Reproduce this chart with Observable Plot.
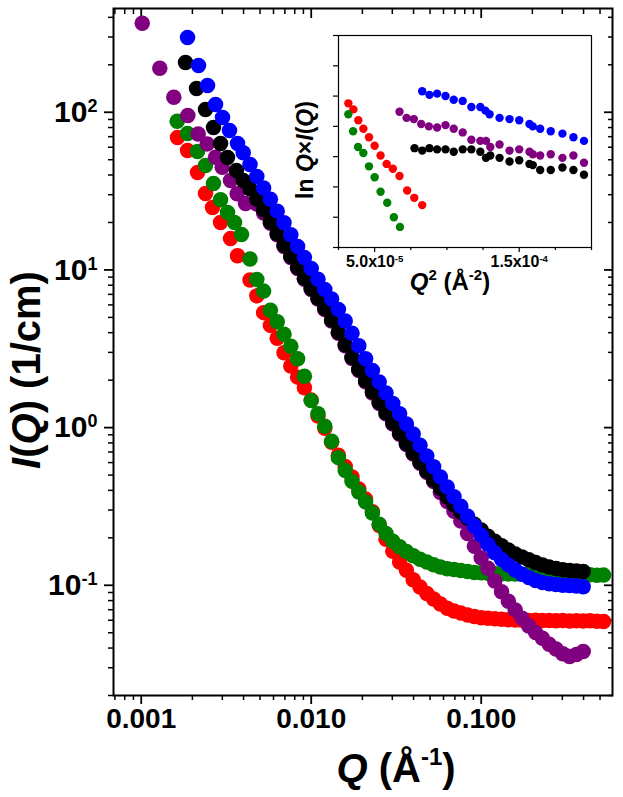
<!DOCTYPE html>
<html>
<head>
<meta charset="utf-8">
<script src="https://cdn.jsdelivr.net/npm/d3@7"></script>
<script src="https://cdn.jsdelivr.net/npm/@observablehq/plot@0.6"></script>
<style>
  body { margin: 0; background: #fff; }
  #wrap { position: relative; width: 623px; height: 797px; overflow: hidden; }
  #wrap svg { display: block; }
  #inset { position: absolute; left: 280px; top: 25px; }
</style>
</head>
<body>
<div id="wrap"></div>
<script>
const FONT = "'Liberation Sans', Arial, Helvetica, sans-serif";

// ---------- Main plot data: Q (1/Å) and I(Q) (1/cm) ----------
const qGrid = [0.002512,0.002754,0.003020,0.003311,0.003631,0.003981,0.004365,0.004786,0.005248,0.005754,
  0.006310,0.006918,0.007586,0.008318,0.009120,0.01000,0.01096,0.01202,0.01318,0.01445,
  0.01585,0.01738,0.01905,0.02089,0.02291,0.02512,0.02754,0.03020,0.03311,0.03631,
  0.03981,0.04365,0.04786,0.05248,0.05754,0.06310,0.06918,0.07586,0.08318,0.09120,
  0.1000,0.1096,0.1202,0.1318,0.1445,0.1585,0.1738,0.1905,0.2089,0.2291,
  0.2512,0.2754,0.3020,0.3311,0.3631,0.3981,0.4365,0.4786,0.5248];

const redQ = [0.001635,0.001873,0.002144,0.002389,0.002627,0.002928,0.003351,0.003686, ...qGrid.slice(6, 59)];
const redI = [69.1,57.2,41.5,30.5,24.9,20.0,15.8,12.3,
  8.62,6.85,5.36,4.45,3.69,2.98,2.46,2.09,1.788,1.494,1.183,0.990,0.807,0.667,0.567,0.486,0.408,0.352,0.293,0.239,0.196,0.1645,0.1405,0.1245,0.1085,0.0976,0.0887,0.0819,0.0762,0.0716,0.0688,0.0666,0.0648,0.0634,0.0623,0.0618,0.0613,
  0.0608,0.0605,0.0603,0.0600,0.0598,0.0600,0.0597,0.0598,0.0595,0.0597,0.0594,0.0596,0.0593,0.0595,0.0592,0.0590];

const greenQ = [0.001628,0.001873,0.002144,0.002389,0.002662,0.002928,0.003218,0.003539,0.003890, ...qGrid.slice(6, 59)];
const greenI = [87.7,73.3,56.3,45.9,35.3,27.9,23.1,20.0,16.8,
  11.73,8.71,7.34,5.55,4.69,3.91,3.28,2.73,2.12,1.483,1.225,1.021,0.819,0.645,0.535,0.456,0.391,0.338,0.287,0.244,0.213,0.190,0.1754,0.1636,0.1537,0.1462,0.1404,0.1349,0.1306,0.1274,0.1257,0.1241,0.1223,0.1205,0.1200,0.1194,0.1188,
  0.1185,0.1180,0.1178,0.1175,0.1180,0.1172,0.1170,0.1175,0.1168,0.1165,0.1170,0.1162,0.1160,0.1165,0.1158,0.1160];

const purpleQ = [0.001014,0.001286,0.001555,0.001880,0.002164,0.002445,0.002736,0.002996,0.003351,0.003671,0.004107, ...qGrid.slice(7, 56)];
const purpleI = [366.7,190.1,124.5,95.3,72.9,63.0,51.8,44.8,36.9,30.4,26.4,
  26.2,23.0,19.8,16.7,14.1,12.0,10.2,8.72,7.51,6.53,5.60,4.75,3.97,3.30,2.74,2.30,1.95,1.66,1.421,1.222,1.054,0.908,0.782,0.680,0.594,0.520,0.455,
  0.388,0.340,0.295,0.256,0.213,0.1767,0.1497,0.1282,0.1065,0.0911,0.0791,0.0697,0.0619,0.0551,0.0501,0.0461,0.0422,0.0394,0.0368,0.0354,0.0364,0.0380];

const blackQ = [0.001822,0.002115,0.002389,0.002662,0.002928,0.003218, ...qGrid.slice(4, 56)];
const blackI = [206.7,141.3,104.0,80.0,63.3,51.6,
  42.7,36.9,32.7,28.2,24.0,20.2,16.96,14.34,12.22,10.39,8.85,7.62,6.63,5.69,4.82,4.03,3.35,2.78,2.34,1.98,1.69,1.443,1.241,1.070,0.922,0.794,0.690,0.603,0.528,0.466,0.412,0.364,0.324,0.292,0.266,0.244,0.224,0.205,0.190,0.178,0.1677,0.1582,0.1510,0.1451,0.1395,0.1343,0.1304,0.1276,0.1256,0.1241,0.1230,0.1223];

const blueQ = [0.001873,0.002173,0.002455,0.002736,0.003008,0.003306,0.003686, ...qGrid.slice(5, 56)];
const blueI = [297.7,197.8,147.7,111.9,92.5,76.5,63.3,
  55.3,46.7,39.2,33.1,28.1,23.6,19.9,16.7,14.1,12.0,10.2,8.72,7.51,6.55,5.61,4.74,3.97,3.30,2.73,2.30,1.95,1.66,1.42,1.225,1.055,0.910,0.774,0.660,0.565,0.487,0.420,0.364,0.317,0.274,0.238,0.208,0.182,0.161,0.1455,0.1347,0.1250,0.1174,0.1121,0.1073,0.1042,0.1021,0.1012,0.1002,0.0997,0.0990,0.0980];

// ---------- Inset data: Q^2 (Å^-2) and ln(Q·I(Q)) ----------
const insetRedQ2 = [3.18e-5,3.53e-5,3.87e-5,4.22e-5,4.61e-5,5.00e-5,5.41e-5,5.83e-5,6.26e-5,6.72e-5,7.25e-5,7.74e-5,8.29e-5];
const insetRedLn = [-1.31,-1.36,-1.45,-1.52,-1.59,-1.66,-1.74,-1.81,-1.85,-1.91,-2.03,-2.09,-2.15];
const insetGreenQ2 = [3.18e-5,3.51e-5,3.85e-5,4.22e-5,4.61e-5,5.00e-5,5.41e-5,5.87e-5,6.33e-5,6.75e-5];
const insetGreenLn = [-1.40,-1.54,-1.67,-1.72,-1.83,-1.92,-2.04,-2.13,-2.25,-2.33];
const insetBlueQ2 = [8.29e-5,8.79e-5,9.32e-5,9.90e-5,10.47e-5,11.09e-5,11.69e-5,12.31e-5,12.66e-5,12.95e-5,13.64e-5,14.33e-5,15.00e-5,15.71e-5,15.94e-5,16.45e-5,17.18e-5,17.99e-5,18.75e-5,19.48e-5];
const insetBlueLn = [-1.21,-1.24,-1.23,-1.25,-1.28,-1.29,-1.34,-1.34,-1.37,-1.40,-1.43,-1.44,-1.45,-1.48,-1.50,-1.52,-1.54,-1.56,-1.59,-1.62];
const insetPurpleQ2 = [6.72e-5,7.21e-5,7.71e-5,8.22e-5,8.75e-5,9.32e-5,9.90e-5,10.47e-5,11.09e-5,11.69e-5,12.31e-5,12.70e-5,13.00e-5,13.64e-5,14.33e-5,15.00e-5,15.71e-5,15.94e-5,16.45e-5,17.18e-5,17.99e-5,18.75e-5,19.48e-5];
const insetPurpleLn = [-1.38,-1.43,-1.44,-1.48,-1.50,-1.51,-1.49,-1.52,-1.55,-1.61,-1.62,-1.62,-1.67,-1.65,-1.70,-1.69,-1.71,-1.73,-1.74,-1.73,-1.76,-1.74,-1.80];
const insetBlackQ2 = [7.76e-5,8.29e-5,8.79e-5,9.32e-5,9.90e-5,10.47e-5,11.09e-5,11.69e-5,12.31e-5,12.70e-5,13.00e-5,13.64e-5,14.33e-5,15.00e-5,15.71e-5,15.94e-5,16.45e-5,17.18e-5,17.99e-5,18.75e-5,19.48e-5];
const insetBlackLn = [-1.68,-1.70,-1.68,-1.69,-1.69,-1.71,-1.69,-1.69,-1.71,-1.76,-1.74,-1.76,-1.79,-1.78,-1.81,-1.82,-1.86,-1.86,-1.84,-1.86,-1.90];

// ---------- Ticks ----------
const xMajor = [0.001, 0.01, 0.1];
const xMajorLabels = ["0.001", "0.010", "0.100"];
const xMinor = [0.0007,0.0008,0.0009,0.002,0.003,0.004,0.005,0.006,0.007,0.008,0.009,
  0.02,0.03,0.04,0.05,0.06,0.07,0.08,0.09,0.2,0.3,0.4,0.5];
const yMajor = [0.1, 1, 10, 100];
const yMajorLabels = ["10^-1", "10^0", "10^1", "10^2"];
const yMinor = [0.02,0.03,0.04,0.05,0.06,0.07,0.08,0.09,0.2,0.3,0.4,0.5,0.6,0.7,0.8,0.9,
  2,3,4,5,6,7,8,9,20,30,40,50,60,70,80,90,200,300,400];
const insetXMajor = [5e-5, 1.5e-4];
const insetXMajorLabels = ["5.0x10^-5", "1.5x10^-4"];
const insetXMinor = [2.5e-5, 7.5e-5, 1.0e-4, 1.25e-4, 1.75e-4, 2.0e-4];
const insetYTicks = [-2.5,-2.25,-2.0,-1.75,-1.5,-1.25,-1.0,-0.75];

const colors = {red: "#ff0000", green: "#008000", purple: "#800080", black: "#000000", blue: "#0000ff"};

function zip(q, v) {
  const n = Math.min(q.length, v.length);
  return d3.range(n).map(k => ({q: q[k], v: v[k]}));
}

const mainSeries = [
  ["red", redQ, redI], ["green", greenQ, greenI], ["purple", purpleQ, purpleI],
  ["black", blackQ, blackI], ["blue", blueQ, blueI]
];
const insetSeries = [
  ["red", insetRedQ2, insetRedLn], ["green", insetGreenQ2, insetGreenLn],
  ["black", insetBlackQ2, insetBlackLn], ["purple", insetPurpleQ2, insetPurpleLn],
  ["blue", insetBlueQ2, insetBlueLn]
];

const noText = () => "";

const main = Plot.plot({
  width: 623, height: 797,
  marginLeft: 113, marginRight: 11, marginTop: 8, marginBottom: 102,
  style: {background: "white", fontFamily: FONT, color: "black", overflow: "visible"},
  x: {type: "log", domain: [0.000687, 0.592], label: null},
  y: {type: "log", domain: [0.02, 455], label: null},
  marks: [
    Plot.axisX({ticks: xMajor, tickSize: 9, tickPadding: 4, strokeWidth: 1.8,
      tickFormat: d => xMajorLabels[xMajor.indexOf(d)], fontSize: 28, fontWeight: "bold", label: null}),
    Plot.axisX({ticks: xMinor, tickSize: 5, strokeWidth: 1.5, tickFormat: noText, label: null}),
    Plot.axisX({anchor: "top", ticks: xMajor, tickSize: -9, strokeWidth: 1.8, tickFormat: noText, label: null}),
    Plot.axisX({anchor: "top", ticks: xMinor, tickSize: -5, strokeWidth: 1.5, tickFormat: noText, label: null}),
    Plot.axisY({ticks: yMajor, tickSize: 9, tickPadding: 7, strokeWidth: 1.8,
      tickFormat: d => yMajorLabels[yMajor.indexOf(d)], fontSize: 30, fontWeight: "bold", label: null}),
    Plot.axisY({ticks: yMinor, tickSize: 5, strokeWidth: 1.5, tickFormat: noText, label: null}),
    Plot.axisY({anchor: "right", ticks: yMajor, tickSize: -9, strokeWidth: 1.8, tickFormat: noText, label: null}),
    Plot.axisY({anchor: "right", ticks: yMinor, tickSize: -5, strokeWidth: 1.5, tickFormat: noText, label: null}),
    ...mainSeries.map(([name, q, v]) => Plot.dot(zip(q, v), {x: "q", y: "v", r: 7.75, fill: colors[name], stroke: "none"})),
    Plot.frame({stroke: "black", strokeWidth: 2})
  ]
});

const inset = Plot.plot({
  width: 330, height: 275,
  marginLeft: 58, marginRight: 19, marginTop: 10, marginBottom: 53,
  style: {background: "none", fontFamily: FONT, color: "black", overflow: "visible"},
  x: {domain: [2.5e-5, 2.0e-4], label: null},
  y: {domain: [-2.5, -0.75], label: null},
  marks: [
    Plot.axisX({ticks: insetXMajor, tickSize: 5, tickPadding: 3, strokeWidth: 1.2,
      tickFormat: d => insetXMajorLabels[insetXMajor.indexOf(d)], fontSize: 16, fontWeight: "bold", label: null}),
    Plot.axisX({ticks: insetXMinor, tickSize: 3, strokeWidth: 1.2, tickFormat: noText, label: null}),
    Plot.axisY({ticks: insetYTicks, tickSize: 5, strokeWidth: 1.2, tickFormat: noText, label: null}),
    ...insetSeries.map(([name, q, v]) => Plot.dot(zip(q, v), {x: "q", y: "v", r: 4.2, fill: colors[name], stroke: "none"})),
    Plot.frame({stroke: "black", strokeWidth: 1.2})
  ]
});
inset.id = "inset";

function supify(svg) {
  d3.select(svg).selectAll("text").each(function() {
    const t = d3.select(this);
    if (this.children.length) return;
    const s = t.text();
    const m = s.match(/^(.*)\^(.*)$/);
    if (!m) return;
    t.text(m[1]);
    t.append("tspan").attr("dy", "-0.55em").attr("font-size", "0.6em").text(m[2]);
  });
}
supify(main);
supify(inset);

// Main axis titles
const ms = d3.select(main);
const yt = ms.append("text")
  .attr("transform", "translate(40,370) rotate(-90)")
  .attr("text-anchor", "middle").attr("font-size", 40).attr("font-weight", "bold")
  .attr("font-family", FONT).attr("fill", "black");
yt.append("tspan").attr("font-style", "italic").text("I");
yt.append("tspan").text("(");
yt.append("tspan").attr("font-style", "italic").text("Q");
yt.append("tspan").text(") (1/cm)");

const xt = ms.append("text")
  .attr("x", 396).attr("y", 782)
  .attr("text-anchor", "middle").attr("font-size", 40).attr("font-weight", "bold")
  .attr("font-family", FONT).attr("fill", "black");
xt.append("tspan").attr("font-style", "italic").text("Q");
xt.append("tspan").text(" (\u00C5");
xt.append("tspan").attr("font-size", 24).attr("dy", -17).text("-1");
xt.append("tspan").attr("dy", 17).text(")");

// Inset axis titles
const is = d3.select(inset);
const iyt = is.append("text")
  .attr("transform", "translate(33,125) rotate(-90)")
  .attr("text-anchor", "middle").attr("font-size", 23).attr("font-weight", "bold")
  .attr("font-family", FONT).attr("fill", "black");
iyt.append("tspan").text("ln ");
iyt.append("tspan").attr("font-style", "italic").text("Q");
iyt.append("tspan").text("\u00D7");
iyt.append("tspan").attr("font-style", "italic").text("I");
iyt.append("tspan").text("(");
iyt.append("tspan").attr("font-style", "italic").text("Q");
iyt.append("tspan").text(")");

const ixt = is.append("text")
  .attr("x", 170).attr("y", 265)
  .attr("text-anchor", "middle").attr("font-size", 24).attr("font-weight", "bold")
  .attr("font-family", FONT).attr("fill", "black");
ixt.append("tspan").attr("font-style", "italic").text("Q");
ixt.append("tspan").attr("font-size", 15).attr("dy", -10).text("2");
ixt.append("tspan").attr("dy", 10).text(" (\u00C5");
ixt.append("tspan").attr("font-size", 15).attr("dy", -10).text("-2");
ixt.append("tspan").attr("dy", 10).text(")");

const wrap = document.getElementById("wrap");
wrap.appendChild(main);
wrap.appendChild(inset);
</script>
</body>
</html>
